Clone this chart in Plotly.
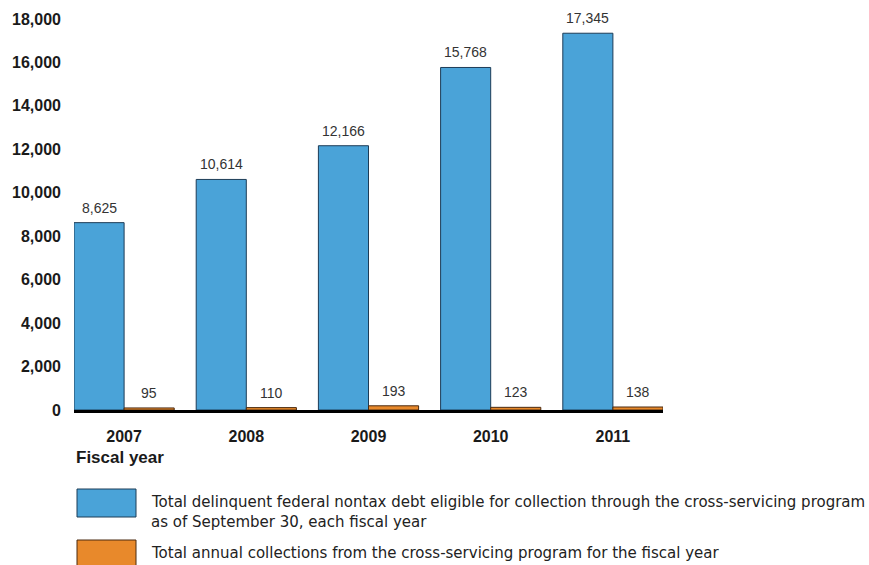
import plotly.graph_objects as go

# Fiscal years and amounts (dollars in millions)
years = ["2007", "2008", "2009", "2010", "2011"]
eligible_debt = [8625, 10614, 12166, 15768, 17345]
collections = [95, 110, 193, 123, 138]
y_ticks = [0, 2000, 4000, 6000, 8000, 10000, 12000, 14000, 16000, 18000]

legend_lines = [
    "Total delinquent federal nontax debt eligible for collection through the cross-servicing program",
    "as of September 30, each fiscal year",
    "Total annual collections from the cross-servicing program for the fiscal year",
]

BLUE = "#4aa3d8"
ORANGE = "#e8892b"
W, H = 869, 565
L, R, T, B = 74, 206, 19, 155

def px(x):
    return (x - L) / (W - L - R)

def py(y):
    return (H - B - y) / (H - T - B)

xs = list(range(len(years)))

fig = go.Figure()
fig.add_trace(go.Bar(x=xs, y=eligible_debt, marker=dict(color=BLUE, line=dict(color="#1d3c57", width=1)),
                     name=legend_lines[0], showlegend=False))
fig.add_trace(go.Bar(x=xs, y=collections, marker=dict(color=ORANGE, line=dict(color="#4a2a10", width=1)),
                     name=legend_lines[2], showlegend=False))

annotations = []
for i, (a, b) in enumerate(zip(eligible_debt, collections)):
    annotations.append(dict(x=i - 0.205, y=a, text=f"{a:,}", showarrow=False, yanchor="bottom",
                            yshift=5, font=dict(size=14, color="#333333")))
    annotations.append(dict(x=i + 0.205, y=b, text=f"{b:,}", showarrow=False, yanchor="bottom",
                            yshift=5, font=dict(size=14, color="#333333")))

annotations.append(dict(xref="paper", yref="paper", x=px(74), y=py(457), text="<b>Fiscal year</b>",
                        showarrow=False, xanchor="left", yanchor="middle",
                        font=dict(size=17, color="#1a1a1a")))

legend_font = dict(family="DejaVu Sans, Verdana, sans-serif", size=15, color="#222222")
for text, yc in zip(legend_lines, [502, 522, 553]):
    annotations.append(dict(xref="paper", yref="paper", x=px(149), y=py(yc), text=text,
                            showarrow=False, xanchor="left", yanchor="middle", align="left",
                            font=legend_font))

shapes = [
    dict(type="rect", xref="paper", yref="paper", x0=px(77), x1=px(136), y0=py(517), y1=py(489),
         fillcolor=BLUE, line=dict(color="#1d3c57", width=1)),
    dict(type="rect", xref="paper", yref="paper", x0=px(77), x1=px(136), y0=py(568), y1=py(540),
         fillcolor=ORANGE, line=dict(color="#4a2a10", width=1)),
]

fig.update_layout(
    width=W, height=H,
    margin=dict(l=L, r=R, t=T, b=B),
    paper_bgcolor="white", plot_bgcolor="white",
    barmode="group", bargap=0.18, bargroupgap=0,
    font=dict(family="Liberation Sans, Arial, sans-serif"),
    xaxis=dict(range=[-0.41, len(years) - 1 + 0.41], tickvals=xs, ticktext=years,
               showline=True, linecolor="black", linewidth=3, ticks="", showgrid=False,
               zeroline=False, ticklabelstandoff=10,
               tickfont=dict(size=16, color="#1a1a1a", weight="bold")),
    yaxis=dict(range=[0, 18000], tickvals=y_ticks, tickformat=",d", showgrid=False,
               zeroline=False, showline=False, ticks="", ticklabelstandoff=12,
               tickfont=dict(size=16, color="#1a1a1a", weight="bold")),
    annotations=annotations,
    shapes=shapes,
)

fig.write_html("out.html")
